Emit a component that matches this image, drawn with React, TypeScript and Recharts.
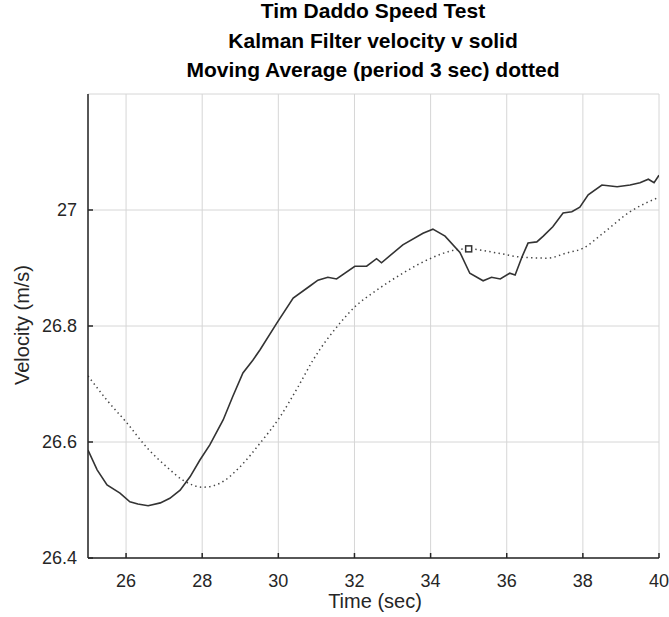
import { LineChart, Line, XAxis, YAxis, CartesianGrid, ReferenceDot } from "recharts";

// Kalman filter velocity (solid)
const kalmanTime = [
  25.0, 25.24, 25.5, 25.84, 26.1, 26.31, 26.58, 26.9, 27.15, 27.42, 27.68, 27.94, 28.2, 28.55, 28.8,
  29.07, 29.33, 29.52, 29.96, 30.39, 30.83, 31.04, 31.3, 31.53, 32.01, 32.32, 32.58, 32.71, 33.27,
  33.8, 34.06, 34.38, 34.77, 35.03, 35.38, 35.6, 35.83, 36.08, 36.22, 36.4, 36.56, 36.79, 36.96,
  37.21, 37.48, 37.71, 37.92, 38.14, 38.5, 38.9, 39.24, 39.5, 39.72, 39.87, 40.0,
];
const kalmanVel = [
  26.586, 26.552, 26.526, 26.512, 26.497, 26.493, 26.49, 26.495, 26.503, 26.517, 26.54, 26.569, 26.595,
  26.638, 26.678, 26.719, 26.741, 26.759, 26.805, 26.848, 26.869, 26.879, 26.884, 26.881, 26.903,
  26.903, 26.916, 26.909, 26.94, 26.96, 26.967, 26.955, 26.927, 26.891, 26.878, 26.884, 26.881,
  26.891, 26.888, 26.919, 26.943, 26.945, 26.955, 26.971, 26.995, 26.997, 27.005, 27.026, 27.043,
  27.04, 27.043, 27.047, 27.053, 27.047, 27.06,
];

// moving average, period 3 sec (dotted)
const avgTime = [
  25.0, 25.5, 26.02, 26.55, 27.07, 27.5, 28.02, 28.47, 28.99, 29.52, 30.04, 30.5, 30.91, 31.62, 32.01,
  32.59, 33.27, 33.98, 34.64, 34.98, 35.74, 36.35, 37.06, 37.58, 38.0, 38.53, 39.24, 40.0,
];
const avgVel = [
  26.714, 26.672, 26.633, 26.59, 26.557, 26.534, 26.522, 26.529, 26.557, 26.598, 26.643, 26.693,
  26.741, 26.805, 26.833, 26.862, 26.891, 26.916, 26.931, 26.933, 26.926, 26.919, 26.917, 26.926,
  26.934, 26.96, 26.997, 27.022,
];

const xTicks = [26, 28, 30, 32, 34, 36, 38, 40];
const yTicks = [26.4, 26.6, 26.8, 27];
const markerTime = 35;
const markerVel = 26.933;

const titleLines = [
  "Tim Daddo Speed Test",
  "Kalman Filter velocity v solid",
  "Moving Average (period 3 sec) dotted",
];

const kalmanData = kalmanTime.map((t, i) => ({ t, v: kalmanVel[i] }));
const avgData = avgTime.map((t, i) => ({ t, v: avgVel[i] }));

const font = "'Liberation Sans', Arial, sans-serif";
const ink = "#262626";

function SquareMarker(props: any) {
  const { cx, cy } = props;
  return <rect x={cx - 3} y={cy - 3} width={6} height={6} fill="#fff" stroke="#333" strokeWidth={1.5} />;
}

export default function App() {
  return (
    <div style={{ position: "relative", width: 669, height: 617 }}>
      <style>{`body { margin: 0; }`}</style>
      <LineChart width={669} height={617} data={kalmanData} margin={{ top: 94, right: 10, bottom: 0, left: 0 }}>
        <CartesianGrid stroke="#d6d6d6" strokeWidth={1} />
        <XAxis
          dataKey="t"
          type="number"
          domain={[25, 40]}
          ticks={xTicks}
          allowDataOverflow
          height={59}
          tickSize={-5}
          tickMargin={21}
          stroke={ink}
          axisLine={{ stroke: ink, strokeWidth: 1.5 }}
          tickLine={{ stroke: ink, strokeWidth: 1.5 }}
          tick={{ fill: ink, fontSize: 18, fontFamily: font }}
        />
        <YAxis
          type="number"
          domain={[26.4, 27.2]}
          ticks={yTicks}
          allowDataOverflow
          width={88}
          tickSize={-5}
          tickMargin={16}
          stroke={ink}
          axisLine={{ stroke: ink, strokeWidth: 1.5 }}
          tickLine={{ stroke: ink, strokeWidth: 1.5 }}
          tick={{ fill: ink, fontSize: 18, fontFamily: font }}
        />
        <Line
          data={avgData}
          dataKey="v"
          type="monotone"
          stroke="#444"
          strokeWidth={1.5}
          strokeDasharray="1.4 3.3"
          dot={false}
          isAnimationActive={false}
        />
        <Line
          data={kalmanData}
          dataKey="v"
          type="linear"
          stroke="#333"
          strokeWidth={1.6}
          dot={false}
          isAnimationActive={false}
        />
        <ReferenceDot x={markerTime} y={markerVel} shape={SquareMarker} />
      </LineChart>
      <svg width={669} height={617} style={{ position: "absolute", left: 0, top: 0, pointerEvents: "none" }}>
        {titleLines.map((line, i) => (
          <text
            key={line}
            x={373}
            y={18 + i * 29.5}
            textAnchor="middle"
            fontFamily={font}
            fontWeight="bold"
            fontSize={21}
            fill="#000"
          >
            {line}
          </text>
        ))}
        <text x={375} y={608} textAnchor="middle" fontFamily={font} fontSize={20} fill={ink}>
          Time (sec)
        </text>
        <text
          x={29}
          y={325}
          textAnchor="middle"
          fontFamily={font}
          fontSize={20}
          fill={ink}
          transform="rotate(-90 29 325)"
        >
          Velocity (m/s)
        </text>
      </svg>
    </div>
  );
}
